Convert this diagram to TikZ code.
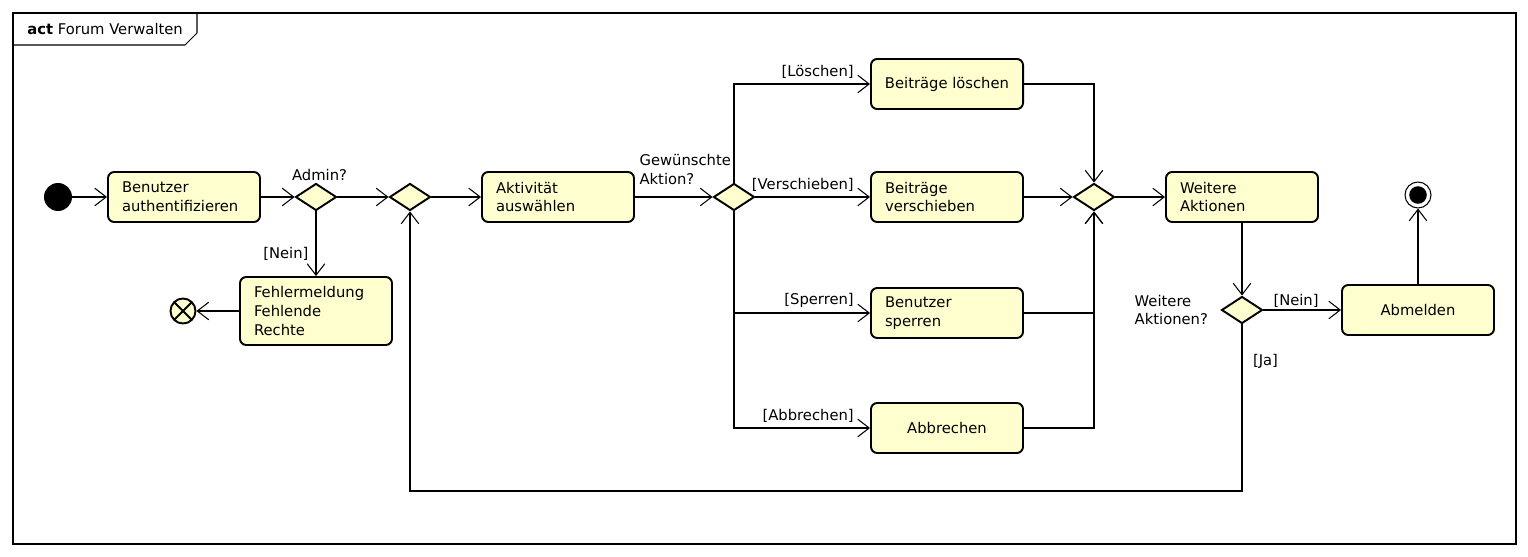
\documentclass[tikz,border=0pt]{standalone}
\usepackage{fontspec}
\setmainfont{DejaVu Sans}
\usetikzlibrary{shapes.geometric,arrows.meta,positioning}

\definecolor{aktgelb}{RGB}{254,254,206}

\tikzset{
  aktion/.style={draw, line width=1.1pt, rounded corners=3.5pt, fill=aktgelb,
    minimum width=3.04cm, minimum height=1cm, text width=2.48cm,
    inner xsep=0.28cm, inner ysep=2pt, align=left},
  aktionmitte/.style={aktion, text width={}, align=center},
  entscheidung/.style={diamond, draw, line width=1.1pt, fill=aktgelb,
    minimum width=0.82cm, minimum height=0.54cm, inner sep=0pt},
  pfeil/.style={-{Straight Barb[length=6.5pt,width=10pt]}, line width=0.6pt},
  lbl/.style={inner sep=1pt},
  wache/.style={lbl, pos=1, anchor=south east, xshift=-8pt, yshift=2pt},
}

\begin{document}
\begin{tikzpicture}[x=0.02cm, y=-0.02cm, font=\fontsize{8.4}{10.8}\selectfont]
\useasboundingbox (0,0) rectangle (1528,557);

% Rahmen
\draw[line width=0.6pt] (13,13) rectangle (1516,544);
\draw[line width=0.6pt] (197,13) -- (197,33) -- (185,45) -- (13,45);
\node[anchor=west, inner sep=0pt] (titel) at (27,29) {\textbf{act} Forum Verwalten};

% Knoten
\node[circle, fill=black, minimum size=0.56cm, inner sep=0pt] (start) at (58,197) {};
\node[aktion] (auth) at (184,197) {Benutzer\\authentifizieren};
\node[entscheidung, label={[lbl, xshift=2pt]above:Admin?}] (admin) at (316,197) {};
\node[aktion, minimum height=1.36cm] (fehler) at (316,311) {Fehlermeldung\\Fehlende\\Rechte};
\node[circle, draw, line width=1.1pt, fill=aktgelb, minimum size=0.5cm, inner sep=0pt,
  path picture={\draw[line width=1.1pt] (path picture bounding box.north west) -- (path picture bounding box.south east)
    (path picture bounding box.north east) -- (path picture bounding box.south west);}] (abbruch) at (183,311) {};
\node[entscheidung] (merge1) at (410,197) {};
\node[aktion] (aktiv) at (558,197) {Aktivität\\auswählen};
\node[entscheidung] (wahl) at (734,197) {};
\node[lbl, align=left, anchor=south east] (wahltext) at (733,187) {Gewünschte\\Aktion?};

\node[aktionmitte] (loeschen) at (947,84) {Beiträge löschen};
\node[aktion] (verschieben) at (947,197) {Beiträge\\verschieben};
\node[aktion] (sperren) at (947,313) {Benutzer\\sperren};
\node[aktionmitte] (abbrechen) at (947,428) {Abbrechen};

\node[entscheidung] (merge2) at (1094,197) {};
\node[aktion] (weitere) at (1242,197) {Weitere\\Aktionen};
\node[entscheidung] (frage) at (1242,310) {};
\node[lbl, align=left, anchor=east] (fragetext) at (1210,310) {Weitere\\Aktionen?};
\node[aktionmitte] (abmelden) at (1418,310) {Abmelden};
\node[circle, draw, line width=0.6pt, minimum size=0.52cm, inner sep=0pt,
  path picture={\fill (path picture bounding box.center) circle (5pt);}] (ende) at (1418,195) {};

\coordinate (unten) at (0,491);

% Kanten
\draw[pfeil] (start) -- (auth);
\draw[pfeil] (auth) -- (admin);
\draw[pfeil] (admin) -- (merge1);
\draw[pfeil] (admin) -- node[lbl, pos=0.65, left=3pt] {[Nein]} (fehler);
\draw[pfeil] (fehler) -- (abbruch);
\draw[pfeil] (merge1) -- (aktiv);
\draw[pfeil] (aktiv) -- (wahl);
\draw[pfeil] (wahl.north) |- node[wache] {[Löschen]} (loeschen.west);
\draw[pfeil] (wahl) -- node[wache] {[Verschieben]} (verschieben);
\draw[pfeil] (wahl.south) |- node[wache] {[Sperren]} (sperren.west);
\draw[pfeil] (wahl.south) |- node[wache] {[Abbrechen]} (abbrechen.west);
\draw[pfeil] (loeschen.east) -| (merge2.north);
\draw[pfeil] (verschieben) -- (merge2);
\draw[pfeil] (sperren.east) -| (merge2.south);
\draw[pfeil] (abbrechen.east) -| (merge2.south);
\draw[pfeil] (merge2) -- (weitere);
\draw[pfeil] (weitere) -- (frage);
\draw[pfeil] (frage) -- node[lbl, pos=0.42, above] {[Nein]} (abmelden);
\draw[pfeil] (abmelden) -- (ende);
\draw[pfeil] (frage.south) -- node[lbl, pos=0.22, right=5pt] {[Ja]} (frage.south |- unten) -| (merge1.south);
\end{tikzpicture}
\end{document}
